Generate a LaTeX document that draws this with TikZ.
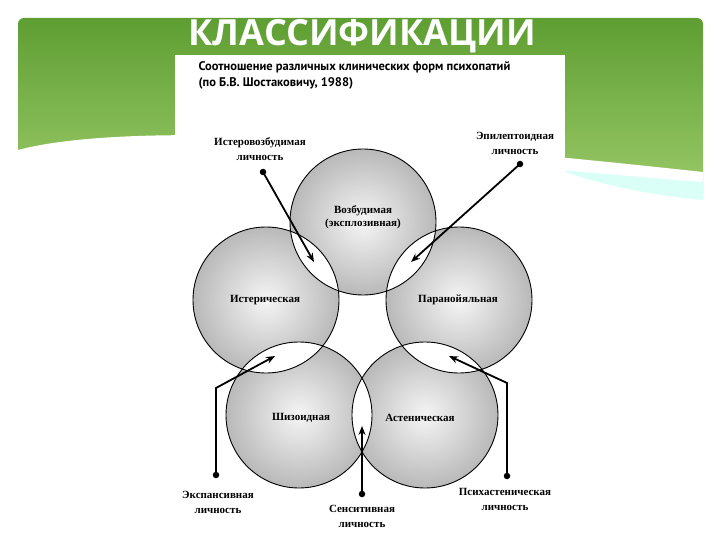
\documentclass[tikz,border=0pt]{standalone}
\usepackage{fontspec}
\setmainfont{Liberation Serif}
\newfontfamily\hdr{PT Sans}
\newfontfamily\ttl{Open Sans}
\usetikzlibrary{arrows.meta}
\definecolor{gdark}{HTML}{5E9E32}
\definecolor{glight}{HTML}{9CCB6A}
\tikzset{
 circ/.style={inner color=gray!8, outer color=gray!55},
 edge/.style={draw=black, line width=0.9pt},
 lbl/.style={font=\bfseries\fontsize{11}{13}\selectfont, align=center},
 outl/.style={font=\bfseries\fontsize{11}{15}\selectfont, align=center},
 ptr/.style={line width=1.8pt, -{Stealth[length=9pt,width=7pt]}},
 dotc/.style={circle, fill=black, inner sep=0pt, minimum size=6.5pt}
}
\begin{document}
\begin{tikzpicture}[x=1pt,y=-1pt]
\useasboundingbox (0,0) rectangle (720,540);
\fill[white] (0,0) rectangle (720,540);
% green band
\shade[top color=gdark, bottom color=glight, rounded corners=6pt] (18,18) rectangle (703,200);
\fill[white] (18,150) .. controls (150,115) and (500,150) .. (703,172) -- (703,205) -- (18,205) -- cycle;
\fill[green!20!cyan!15] (560,170) .. controls (620,175) and (670,180) .. (703,182) -- (703,200) .. controls (650,195) and (600,185) .. (560,170);
\node[font=\ttl\bfseries\fontsize{36}{37}\selectfont, text=white] (title) at (362,36) {КЛАССИФИКАЦИИ};
% panel
\fill[white] (175,55) rectangle (565,540);
\node[font=\hdr\bfseries\fontsize{12.5}{16}\selectfont, anchor=west, align=left] (head) at (195,75)
 {Соотношение различных клинических форм психопатий\\(по Б.В. Шостаковичу, 1988)};
% circle geometry
\def\Ct{(363,222) circle (73)}
\def\Cl{(266,300) circle (73)}
\def\Cr{(459,300) circle (73)}
\def\Cbl{(299,415) circle (73)}
\def\Cbr{(425,415) circle (73)}
\shade[circ] \Ct; \shade[circ] \Cl; \shade[circ] \Cr; \shade[circ] \Cbl; \shade[circ] \Cbr;
% lenses (white intersections)
\begin{scope}\clip \Ct; \fill[white] \Cl; \fill[white] \Cr; \end{scope}
\begin{scope}\clip \Cbl; \fill[white] \Cl; \fill[white] \Cbr; \end{scope}
\begin{scope}\clip \Cbr; \fill[white] \Cr; \end{scope}
\draw[edge] \Ct; \draw[edge] \Cl; \draw[edge] \Cr; \draw[edge] \Cbl; \draw[edge] \Cbr;
% named nodes for circles
\node (ct) at (363,222) {}; \node (cl) at (266,300) {}; \node (cr) at (459,300) {};
\node (cbl) at (299,415) {}; \node (cbr) at (425,415) {};
% labels
\node[lbl] (tx1) at (363,217) {Возбудимая\\(эксплозивная)};
\node[lbl] (tx2) at (265,300) {Истерическая};
\node[lbl] (tx3) at (458,300) {Паранойяльная};
\node[lbl] (tx4) at (301,418) {Шизоидная};
\node[lbl] (tx5) at (420,418) {Астеническая};
% outer
\node[outl] (o1) at (260,149) {Истеровозбудимая\\личность};
\node[outl] (o2) at (515,143) {Эпилептоидная\\личность};
\node[outl] (o3) at (218,502) {Экспансивная\\личность};
\node[outl] (o4) at (362,516) {Сенситивная\\личность};
\node[outl] (o5) at (505,499) {Психастеническая\\личность};
\node[dotc] (d1) at (263,172) {};
\node[dotc] (d2) at (520,164) {};
\node[dotc] (d3) at (216,475) {};
\node[dotc] (d4) at (362,494) {};
\node[dotc] (d5) at (507,476) {};
\coordinate (a1) at (314,262);
\coordinate (a2) at (411,262);
\coordinate (a3) at (275,356);
\coordinate (a4) at (362,426);
\coordinate (a5) at (449,356);
\coordinate (k3) at (216,388);
\coordinate (k5) at (507,383);
\draw[ptr] (d1.center) -- (a1);
\draw[ptr] (d2.center) -- (a2);
\draw[ptr] (d3.center) -- (k3) -- (a3);
\draw[ptr] (d4.center) -- (a4);
\draw[ptr] (d5.center) -- (k5) -- (a5);
\end{tikzpicture}
\end{document}
